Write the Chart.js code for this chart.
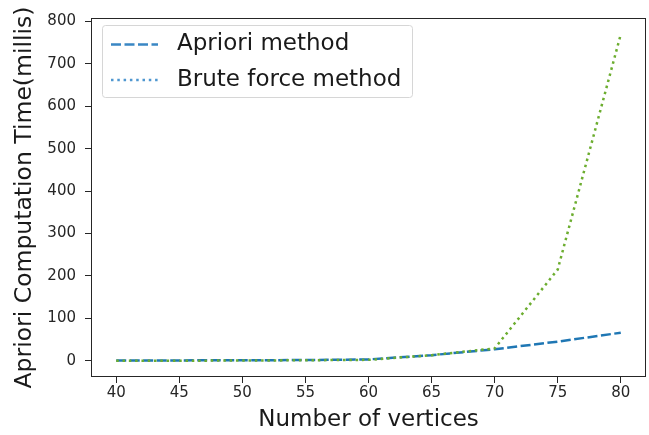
<!DOCTYPE html>
<html>
<head>
<meta charset="utf-8">
<script src="https://cdn.jsdelivr.net/npm/chart.js@4"></script>
<style>
html,body{margin:0;padding:0;background:#fff;}
#wrap{width:649px;height:435px;}
</style>
</head>
<body>
<div id="wrap"><canvas id="c" width="649" height="435"></canvas></div>
<script>
// ---- data ----
const vertices = [40, 45, 50, 55, 60, 65, 70, 75, 80];
const aprioriTimes = [0.5, 0.7, 1, 1.5, 3, 13, 27, 45, 66];
const bruteTimes = [0, 0, 0.3, 1, 2, 13, 29, 215, 770];
const xTicks = [40, 45, 50, 55, 60, 65, 70, 75, 80];
const yTicks = [0, 100, 200, 300, 400, 500, 600, 700, 800];
const seriesLabels = ['Apriori method', 'Brute force method'];
const axisTitles = { x: 'Number of vertices', y: 'Apriori Computation Time(millis)' };

const FONT = "'DejaVu Sans', sans-serif";
const TXT = '#262626';

const toXY = (xs, ys) => xs.map((x, i) => ({ x: x, y: ys[i] }));

const framePlugin = {
  id: 'frame',
  afterDraw(chart) {
    const { ctx, chartArea: a } = chart;
    ctx.save();
    ctx.strokeStyle = TXT;
    ctx.lineWidth = 1;
    ctx.strokeRect(Math.round(a.left) + 0.5, Math.round(a.top) + 0.5,
                   Math.round(a.right - a.left) - 1, Math.round(a.bottom - a.top) - 1);
    // legend
    const bx = 102.5, by = 25.5, bw = 310, bh = 72, r = 3;
    ctx.beginPath();
    ctx.moveTo(bx + r, by);
    ctx.lineTo(bx + bw - r, by);
    ctx.quadraticCurveTo(bx + bw, by, bx + bw, by + r);
    ctx.lineTo(bx + bw, by + bh - r);
    ctx.quadraticCurveTo(bx + bw, by + bh, bx + bw - r, by + bh);
    ctx.lineTo(bx + r, by + bh);
    ctx.quadraticCurveTo(bx, by + bh, bx, by + bh - r);
    ctx.lineTo(bx, by + r);
    ctx.quadraticCurveTo(bx, by, bx + r, by);
    ctx.closePath();
    ctx.fillStyle = 'rgba(255,255,255,0.8)';
    ctx.fill();
    ctx.strokeStyle = '#d6d6d6';
    ctx.lineWidth = 1;
    ctx.stroke();

    const rows = [
      { y: 44.5, dash: [10, 3.5], color: '#3a87c4', label: chart.data.datasets[0].label },
      { y: 80, dash: [2.5, 3.8], color: '#4f97d0', label: chart.data.datasets[1].label }
    ];
    rows.forEach(rw => {
      ctx.save();
      ctx.beginPath();
      ctx.setLineDash(rw.dash);
      ctx.strokeStyle = rw.color;
      ctx.lineWidth = 2.5;
      ctx.moveTo(111, rw.y);
      ctx.lineTo(158, rw.y);
      ctx.stroke();
      ctx.restore();
      ctx.fillStyle = '#1a1a1a';
      ctx.font = '23px ' + FONT;
      ctx.textBaseline = 'middle';
      ctx.textAlign = 'left';
      ctx.fillText(rw.label, 177, rw.y);
    });
    ctx.restore();
  }
};

new Chart(document.getElementById('c'), {
  type: 'line',
  data: {
    datasets: [
      {
        label: seriesLabels[0],
        data: toXY(vertices, aprioriTimes),
        borderColor: '#1f77b4',
        borderWidth: 2.5,
        borderDash: [10, 3.5],
        pointRadius: 0,
        tension: 0,
        fill: false,
        order: 2
      },
      {
        label: seriesLabels[1],
        data: toXY(vertices, bruteTimes),
        borderColor: '#6cad2f',
        borderWidth: 2.5,
        borderDash: [2.5, 3.8],
        pointRadius: 0,
        tension: 0,
        fill: false,
        order: 1
      }
    ]
  },
  options: {
    responsive: false,
    animation: false,
    devicePixelRatio: 1,
    layout: { padding: { top: 13, right: 3, left: 0, bottom: 0 } },
    plugins: { legend: { display: false }, tooltip: { enabled: false } },
    scales: {
      x: {
        type: 'linear',
        min: 38, max: 82,
        afterBuildTicks: s => { s.ticks = xTicks.map(v => ({ value: v })); },
        afterFit: s => { s.height = 58; },
        grid: { drawOnChartArea: false, drawTicks: true, tickLength: 6, color: TXT, tickWidth: 1 },
        border: { display: false },
        ticks: { color: TXT, font: { family: FONT, size: 15 }, padding: 1, maxRotation: 0, autoSkip: false },
        title: { display: true, text: axisTitles.x, color: '#1a1a1a', font: { family: FONT, size: 23 }, padding: { top: 0, bottom: 1 } }
      },
      y: {
        type: 'linear',
        min: -38.5, max: 808.5,
        afterBuildTicks: s => { s.ticks = yTicks.map(v => ({ value: v })); },
        afterFit: s => { s.width = 91; },
        grid: { drawOnChartArea: false, drawTicks: true, tickLength: 6, color: TXT, tickWidth: 1 },
        border: { display: false },
        ticks: { color: TXT, font: { family: FONT, size: 15 }, padding: 9, autoSkip: false },
        title: { display: true, text: axisTitles.y, color: '#1a1a1a', font: { family: FONT, size: 23.5 }, padding: { top: 11, bottom: 0 } }
      }
    }
  },
  plugins: [framePlugin]
});
</script>
</body>
</html>
